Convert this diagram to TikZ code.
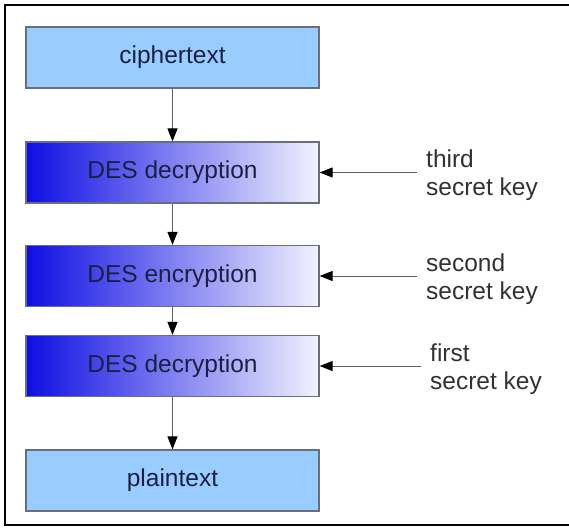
\documentclass[tikz,border=0pt]{standalone}
\usepackage{fontspec}
\setmainfont{Liberation Sans}
\usetikzlibrary{arrows.meta}
\definecolor{boxline}{RGB}{105,110,125}
\definecolor{boxtext}{RGB}{26,32,68}
\definecolor{lightblue}{RGB}{153,204,255}
\definecolor{desleft}{RGB}{14,14,228}
\definecolor{desright}{RGB}{242,242,255}
\definecolor{labeltext}{RGB}{50,50,50}
\definecolor{arrowgray}{RGB}{95,95,95}
\begin{document}
\begin{tikzpicture}[x=1pt,y=-1pt,
  box/.style={draw=boxline, line width=1.2pt, minimum width=293pt, minimum height=61pt, inner sep=0pt,
    font=\fontsize{24.5}{28}\selectfont, text=boxtext},
  plainbox/.style={box, fill=lightblue},
  desbox/.style={box, left color=desleft, right color=desright},
  keylabel/.style={align=left, anchor=north west, inner sep=0pt,
    font=\fontsize{24.5}{28}\selectfont, text=labeltext},
  flow/.style={draw=arrowgray, line width=1pt, -{Triangle[length=13pt,width=10pt,color=black]}}
]
\useasboundingbox (0,0) rectangle (569,527);
\fill[white] (0,0) rectangle (569,527);
\draw[line width=2pt, black] (5,5) rectangle (575,525);

\node[plainbox] (c)  at (172.5,57.5)  {ciphertext};
\node[desbox]   (d1) at (172.5,172.5) {DES decryption};
\node[desbox]   (e)  at (172.5,276)   {DES encryption};
\node[desbox]   (d2) at (172.5,366)   {DES decryption};
\node[plainbox] (p)  at (172.5,480.5) {plaintext};

\draw[flow] (c) -- (d1);
\draw[flow] (d1) -- (e);
\draw[flow] (e) -- (d2);
\draw[flow] (d2) -- (p);

\node[keylabel] (k3) at (426,150) {third\\secret key};
\node[keylabel] (k2) at (426,253.5) {second\\secret key};
\node[keylabel] (k1) at (430,343.5) {first\\secret key};

\coordinate (a3) at (417,172.5);
\coordinate (a2) at (417,276);
\coordinate (a1) at (421,366);
\draw[flow] (a3) -- (d1.east);
\draw[flow] (a2) -- (e.east);
\draw[flow] (a1) -- (d2.east);
\end{tikzpicture}
\end{document}
